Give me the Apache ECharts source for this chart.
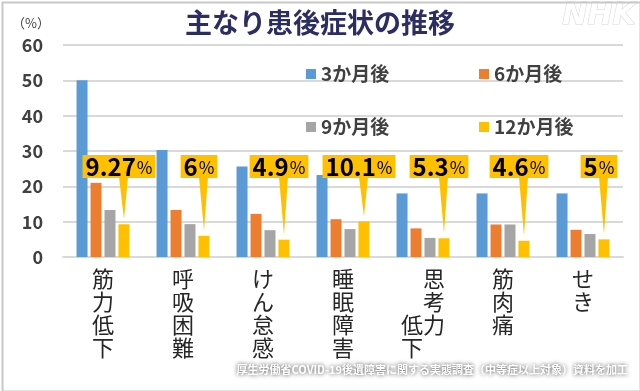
<!DOCTYPE html>
<html>
<head>
<meta charset="utf-8">
<script src="https://cdn.jsdelivr.net/npm/echarts@6/dist/echarts.min.js"></script>
<style>
html,body{margin:0;padding:0;background:#fff;}
#c{width:640px;height:391px;}
</style>
</head>
<body>
<div id="c"></div>
<script>
// ---- data ----
var categories = ['筋力低下', '呼吸困難', 'けん怠感', '睡眠障害', '思考力低下', '筋肉痛', 'せき'];
var tickLabels = ['筋\n力\n低\n下', '呼\n吸\n困\n難', 'け\nん\n怠\n感', '睡\n眠\n障\n害', '\u3000思\n\u3000考\n低力\n下\u3000', '筋\n肉\n痛', 'せ\nき'];
var seriesNames = ['3か月後', '6か月後', '9か月後', '12か月後'];
var month3 = [50, 30.3, 25.6, 23.2, 18.0, 18.0, 18.0];
var month6 = [21.0, 13.3, 12.2, 10.7, 8.1, 9.2, 7.7];
var month9 = [13.3, 9.3, 7.6, 7.9, 5.4, 9.2, 6.5];
var month12 = [9.27, 6, 4.9, 10.1, 5.3, 4.6, 5];
var yTicks = [0, 10, 20, 30, 40, 50, 60];

var FONT = '"Noto Sans CJK JP", "Noto Sans", sans-serif';
var colors = ['#5B9BD5', '#ED7D31', '#A5A5A5', '#FFC000'];
var CALLOUT_LEVEL = 25.6; // vertical level of callout boxes (axis units)

var chart = echarts.init(document.getElementById('c'), null, {renderer: 'canvas'});

function legendFor(name, left, top) {
  return {
    data: [name], left: left, top: top, padding: 0,
    icon: 'rect', itemWidth: 10, itemHeight: 10, itemGap: 6,
    textStyle: {fontFamily: FONT, fontSize: 19, fontWeight: 'bold', color: '#404040', lineHeight: 20}
  };
}

var barSeries = [month3, month6, month9, month12].map(function (arr, k) {
  return {
    name: seriesNames[k], type: 'bar', data: arr,
    barWidth: 11, barGap: '27%',
    itemStyle: {color: colors[k]},
    emphasis: {disabled: true},
    z: 2
  };
});

var calloutData = categories.map(function (c, i) { return [i, month12[i], String(month12[i])]; });

var option = {
  animation: false,
  textStyle: {fontFamily: FONT},
  title: {
    text: '主なり患後症状の推移', left: 'center', top: 9, padding: 0,
    textStyle: {fontFamily: FONT, fontSize: 27, fontWeight: 'bold', color: '#2C2E63'}
  },
  legend: [
    legendFor(seriesNames[0], 306, 64),
    legendFor(seriesNames[1], 479, 64),
    legendFor(seriesNames[2], 306, 117),
    legendFor(seriesNames[3], 479, 117)
  ],
  grid: {left: 63, right: 17, top: 45, bottom: 134, containLabel: false},
  xAxis: {
    type: 'category', data: categories,
    axisLine: {lineStyle: {color: '#d9d9d9', width: 2}},
    axisTick: {show: false},
    axisLabel: {
      interval: 0, margin: 10,
      fontFamily: FONT, fontSize: 22, lineHeight: 23, color: '#262626',
      formatter: function (v, idx) { return tickLabels[idx]; }
    }
  },
  yAxis: {
    type: 'value', min: yTicks[0], max: yTicks[yTicks.length - 1], interval: 10,
    axisLine: {show: false}, axisTick: {show: false},
    splitLine: {lineStyle: {color: '#d9d9d9', width: 2}},
    axisLabel: {margin: 20, fontFamily: FONT, fontSize: 18, fontWeight: 'bold', color: '#404040'}
  },
  series: barSeries.concat([{
    type: 'custom',
    data: calloutData,
    z: 5,
    silent: true,
    renderItem: function (params, api) {
      var i = api.value(0), v = api.value(1);
      var base = api.coord([i, 0]);
      var top = api.coord([i, v]);
      var lvl = api.coord([i, CALLOUT_LEVEL]);
      var cx = base[0] + 21;
      var bx = cx - 5;
      var by = lvl[1];
      var boxBottom = by + 11.5;
      var txt = calloutData[params.dataIndex][2];
      return {
        type: 'group',
        children: [
          {type: 'polygon', shape: {points: [[cx - 5, boxBottom - 1], [cx + 4, boxBottom - 1], [cx, top[1] - 5]]},
           style: {fill: '#FFC000'}},
          {type: 'text', x: bx, y: by,
           style: {
             text: '{n|' + txt + '}{p|%}',
             align: 'center', verticalAlign: 'middle',
             backgroundColor: '#FFC000', padding: [0, 3],
             rich: {
               n: {fontFamily: FONT, fontSize: 24, fontWeight: 'bold', color: '#000', lineHeight: 23},
               p: {fontFamily: FONT, fontSize: 17, color: '#000', lineHeight: 23, padding: [3, 0, 0, 1]}
             }
           }}
        ]
      };
    }
  }]),
  graphic: [
    {type: 'rect', left: 0, top: 0, shape: {x: 1, y: 1, width: 638, height: 389},
     style: {fill: 'none', stroke: '#c8c8c8', lineWidth: 2}, silent: true, z: 100},
    {type: 'text', x: 31, y: 23,
     style: {text: '（%）', fontFamily: FONT, fontSize: 13, fill: '#404040', align: 'center', verticalAlign: 'middle'}},
    {type: 'text', x: 599, y: 16,
     style: {text: 'NHK', font: 'italic bold 30px "DejaVu Sans", sans-serif', fill: '#ffffff', stroke: '#d4d4d4', lineWidth: 1,
             align: 'center', verticalAlign: 'middle'}},
    {type: 'text', x: 628, y: 370,
     style: {text: '厚生労働省COVID-19後遺障害に関する実態調査（中等症以上対象）資料を加工',
             fontFamily: FONT, fontSize: 11, fontWeight: 'bold', fill: '#ffffff',
             textShadowColor: 'rgba(40,40,40,0.9)', textShadowBlur: 4,
             align: 'right', verticalAlign: 'middle'}}
  ]
};
chart.setOption(option);
</script>
</body>
</html>
